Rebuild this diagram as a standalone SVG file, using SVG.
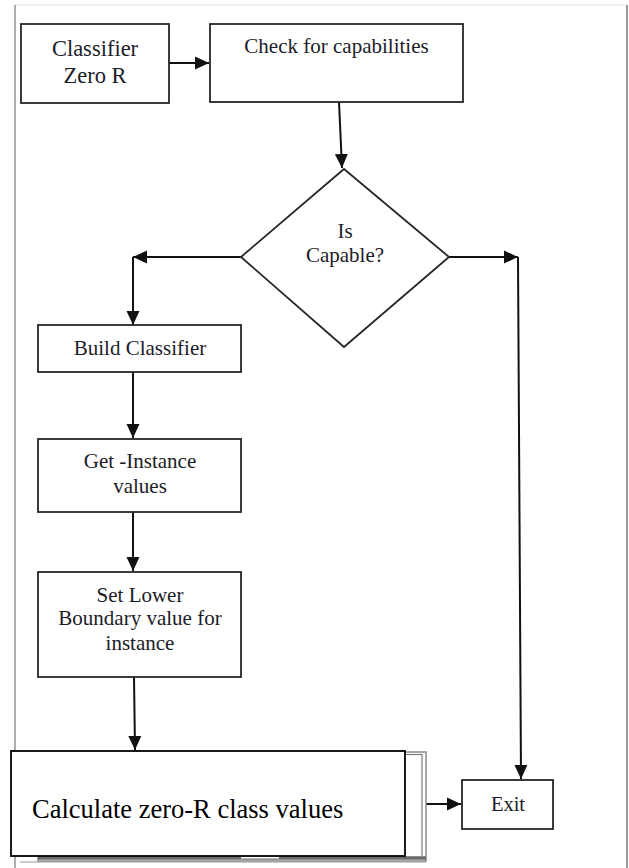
<svg xmlns="http://www.w3.org/2000/svg" width="629" height="868" viewBox="0 0 629 868">
<style>
.box{fill:#fff;stroke:#262626;stroke-width:1.8}
.t{fill:#1c1c28;text-anchor:middle}
.c{stroke:#111;stroke-width:2;fill:none}
</style>
<defs>
<marker id="ah" markerUnits="userSpaceOnUse" markerWidth="16" markerHeight="16" viewBox="0 0 16 16" refX="14" refY="8" orient="auto">
<path d="M0,1.5 L14,8 L0,14.5 Z" fill="#111"/>
</marker>
</defs>
<rect x="0" y="0" width="629" height="868" fill="#fff"/>
<g id="frame">
<line x1="15" y1="5" x2="627" y2="5" stroke="#ececec" stroke-width="1.5"/>
<line x1="15" y1="5" x2="15" y2="868" stroke="#9a9a9a" stroke-width="1.6"/>
<line x1="627" y1="5" x2="627" y2="868" stroke="#9a9a9a" stroke-width="2"/>
</g>
<g id="connectors">
<line class="c" x1="169" y1="63" x2="209" y2="63" marker-end="url(#ah)"/>
<line class="c" x1="339" y1="102" x2="342" y2="168" marker-end="url(#ah)"/>
<line class="c" x1="241" y1="257" x2="133" y2="257" marker-end="url(#ah)"/>
<line class="c" x1="133" y1="257" x2="133" y2="325" marker-end="url(#ah)"/>
<line class="c" x1="449" y1="257" x2="518" y2="257" marker-end="url(#ah)"/>
<line class="c" x1="518" y1="257" x2="521" y2="779" marker-end="url(#ah)"/>
<line class="c" x1="133" y1="372" x2="133" y2="438" marker-end="url(#ah)"/>
<line class="c" x1="133" y1="512" x2="133" y2="571" marker-end="url(#ah)"/>
<line class="c" x1="134" y1="677" x2="135" y2="750" marker-end="url(#ah)"/>
<line class="c" x1="426" y1="804" x2="461" y2="804" marker-end="url(#ah)"/>
</g>
<g font-family="Liberation Serif, Times New Roman, serif" font-size="21">
<g id="classifier">
<rect class="box" x="21" y="24" width="148" height="79"/>
<text class="t" x="95" y="56" font-size="22.5">Classifier</text>
<text class="t" x="95" y="83" font-size="22.5">Zero R</text>
</g>
<g id="check">
<rect class="box" x="210" y="24" width="253" height="78"/>
<text class="t" x="336.5" y="53">Check for capabilities</text>
</g>
<g id="decision">
<polygon class="box" points="344,169 449,257 344,347 241,257"/>
<text class="t" x="345" y="238">Is</text>
<text class="t" x="345" y="262">Capable?</text>
</g>
<g id="build">
<rect class="box" x="38" y="325" width="203" height="47"/>
<text class="t" x="140" y="355">Build Classifier</text>
</g>
<g id="getinstance">
<rect class="box" x="38" y="439" width="203" height="73"/>
<text class="t" x="140" y="468">Get -Instance</text>
<text class="t" x="140" y="493">values</text>
</g>
<g id="setlower">
<rect class="box" x="38" y="572" width="203" height="105"/>
<text class="t" x="140" y="602">Set Lower</text>
<text class="t" x="140" y="625">Boundary value for</text>
<text class="t" x="140" y="650">instance</text>
</g>
<g id="calculate">
<rect x="38" y="752" width="388" height="109" fill="#fff" stroke="#8a8a8a" stroke-width="1.5"/>
<rect x="40" y="754.5" width="382" height="103" fill="none" stroke="#7a7a7a" stroke-width="1.2"/>
<line x1="38" y1="858" x2="426" y2="858" stroke="#6a6a6a" stroke-width="3.5"/>
<line x1="241" y1="857.5" x2="279" y2="857.5" stroke="#fff" stroke-width="2"/>
<line x1="20" y1="862" x2="426" y2="862" stroke="#9a9a9a" stroke-width="1"/>
<rect x="11" y="751" width="394" height="105" fill="#fff" stroke="#000" stroke-width="1.8"/>
<text x="32" y="818" font-size="26.5" fill="#000">Calculate zero-R class values</text>
</g>
<g id="exit">
<rect class="box" x="462" y="780" width="91" height="49"/>
<text class="t" x="508" y="811" font-size="20.5">Exit</text>
</g>
</g>
</svg>
